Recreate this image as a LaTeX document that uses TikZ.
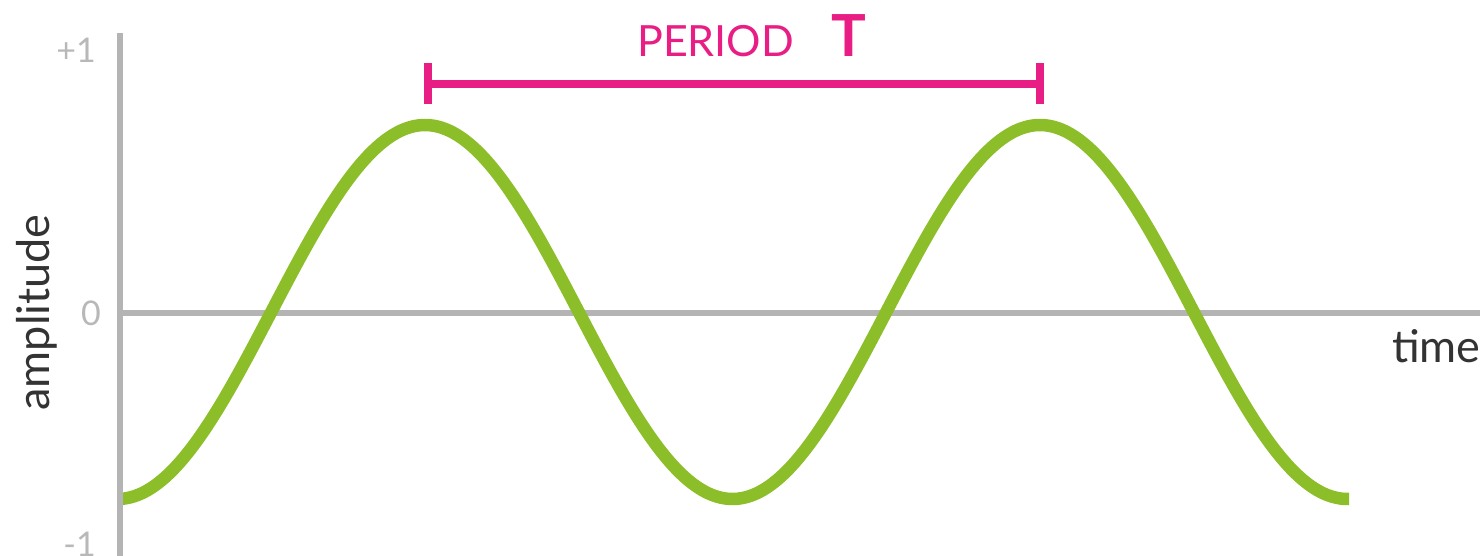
\documentclass[tikz,border=0pt]{standalone}
\usepackage{fontspec}
\setmainfont{Lato}
\definecolor{axisgrey}{HTML}{B4B4B4}
\definecolor{labgrey}{HTML}{B8B8B8}
\definecolor{darktext}{HTML}{333333}
\definecolor{wavegreen}{HTML}{8BBE28}
\definecolor{pmagenta}{HTML}{E91E84}
\tikzset{
  axisline/.style={draw=axisgrey, line width=6pt},
  wave/.style={draw=wavegreen, line width=12.5pt},
  periodbar/.style={draw=pmagenta, line width=7.5pt},
  ticklab/.style={text=labgrey, font=\fontsize{34}{34}\selectfont, inner sep=0pt},
  axislab/.style={text=darktext, font=\fontsize{45}{45}\selectfont, inner sep=0pt},
  periodlab/.style={text=pmagenta, inner sep=0pt}
}
\begin{document}
\begin{tikzpicture}[x=1pt,y=-1pt]
\useasboundingbox (0,0) rectangle (1480,556);
% axes
\coordinate (ytop) at (119.5,33);
\coordinate (ybot) at (119.5,556);
\coordinate (xleft) at (119.5,313);
\coordinate (xright) at (1480,313);
\draw[axisline] (xleft) -- (xright);
% wave
\draw[wave] plot[domain=122:1349, samples=300, smooth] (\x, {312 - 187*cos((\x-425)*0.5853659)});
\draw[axisline] (ytop) -- (ybot);
% tick labels
\node[ticklab, anchor=base east] (p1) at (96,63) {+1};
\node[ticklab, anchor=base] (z0) at (91,325) {0};
\node[ticklab, anchor=base east] (m1) at (96,556) {-1};
% axis labels
\node[axislab, rotate=90, anchor=base] (amp) at (49,312.5) {amplitude};
\node[axislab, anchor=base west] (time) at (1392,362) {time};
% period bar
\coordinate (pl) at (427.5,84);
\coordinate (pr) at (1039.5,84);
\coordinate (plt) at (427.5,63);
\coordinate (plb) at (427.5,104);
\coordinate (prt) at (1039.5,63);
\coordinate (prb) at (1039.5,104);
\draw[periodbar] (pl) -- (pr);
\draw[periodbar, line width=8pt] (plt) -- (plb);
\draw[periodbar, line width=8pt] (prt) -- (prb);
\node[periodlab, font=\fontsize{43}{43}\selectfont, anchor=base west] (per) at (637,57) {PERIOD};
\node[periodlab, font=\fontsize{58}{58}\selectfont\bfseries, anchor=base west] (T) at (831,57) {T};
\end{tikzpicture}
\end{document}
